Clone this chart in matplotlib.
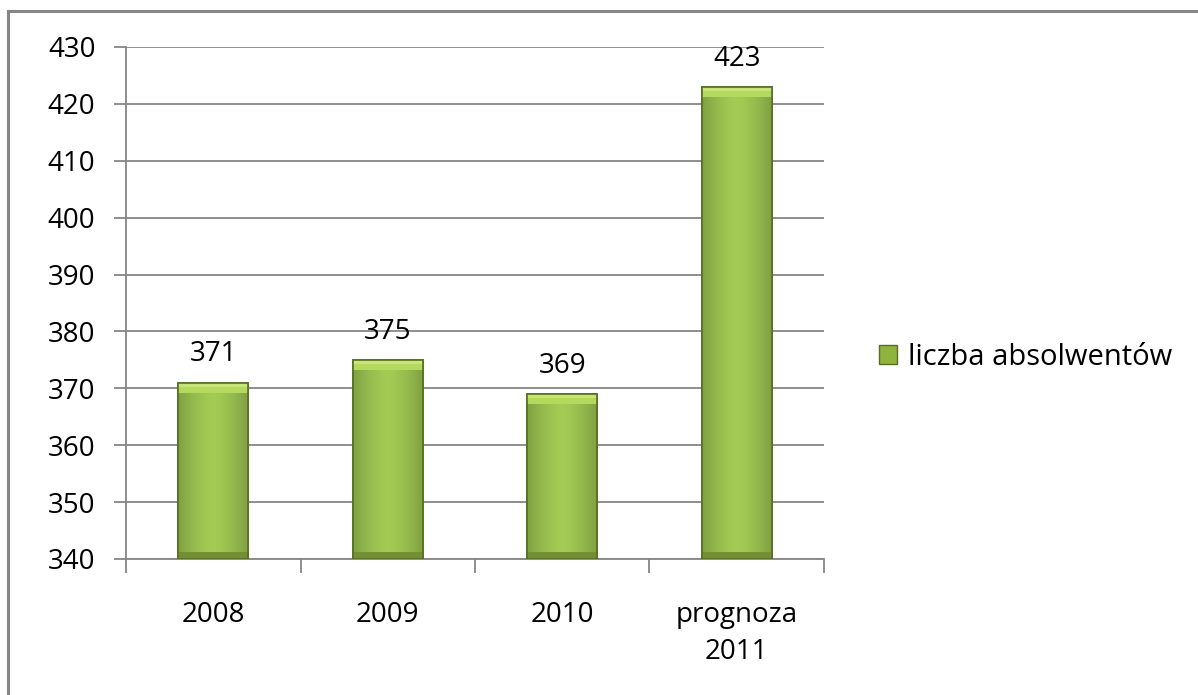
import numpy as np
import matplotlib.pyplot as plt
from matplotlib.patches import Rectangle, Patch

categories = ["2008", "2009", "2010", "prognoza\n2011"]
values = [371, 375, 369, 423]
series_name = "liczba absolwentów"
y_ticks = list(range(340, 431, 10))

plt.rcParams['font.family'] = ['Open Sans', 'DejaVu Sans']

fig = plt.figure(figsize=(11.98, 6.95), dpi=100)
ax = fig.add_axes([0.1052, 0.1957, 0.5826, 0.7367])

grid_col = "#868686"
fs = 20
x = np.arange(len(categories))
bars = ax.bar(x, values, width=0.4, bottom=0, color="#9bc043",
              edgecolor="#566f22", linewidth=1.2, zorder=3)

# gradient fill inside each bar (lighter centre, darker sides)
grad = np.linspace(0, 1, 64)
shade = 1 - 0.3 * np.abs(grad - 0.5) ** 1.5 * 2
light = np.array([0.64, 0.80, 0.33])
img = shade[None, :, None] * light[None, None, :]
for b in bars:
    x0, w, h = b.get_x(), b.get_width(), b.get_height()
    im = ax.imshow(img, extent=(x0, x0 + w, 340, h),
                   aspect="auto", zorder=3.5, interpolation="bilinear")
    im.set_clip_path(b)
    # top bevel
    ax.add_patch(Rectangle((x0, h - 1.8), w, 1.8,
                           facecolor="#b5d95f", edgecolor="none", zorder=3.6))
    ax.add_patch(Rectangle((x0, h - 0.7), w, 0.7,
                           facecolor="#c8e57a", edgecolor="none", zorder=3.6))
    # bottom bevel
    ax.add_patch(Rectangle((x0, 340), w, 1.2,
                           facecolor="#728f33", edgecolor="none", zorder=3.6))
    ax.add_patch(Rectangle((x0, 340), w, h - 340, fill=False,
                           edgecolor="#566f22", linewidth=1.2, zorder=3.7))
    ax.text(x0 + w / 2, h + 2.5, f"{h:.0f}",
            ha="center", va="bottom", fontsize=fs, zorder=4)

ax.set_xlim(-0.5, len(categories) - 0.5)
ax.set_ylim(340, 430)
ax.set_yticks(y_ticks)
ax.tick_params(axis="y", labelsize=fs, length=9, color=grid_col, width=1.3, pad=13)
ax.set_xticks(np.arange(-0.5, len(categories), 1.0))
ax.set_xticklabels([])
ax.set_xticks(x, minor=True)
ax.set_xticklabels(categories, minor=True, fontsize=fs, linespacing=1.45)
ax.tick_params(axis="x", which="major", length=10, color=grid_col, width=1.3)
ax.tick_params(axis="x", which="minor", length=0, pad=30)
ax.grid(axis="y", color=grid_col, linewidth=1.3, zorder=0)
for s in ["top", "right"]:
    ax.spines[s].set_visible(False)
for s in ["left", "bottom"]:
    ax.spines[s].set_color(grid_col)
    ax.spines[s].set_linewidth(1.3)

handle = Patch(facecolor="#8fb33c", edgecolor="#566f22")
fig.legend([handle], [series_name], loc="center left",
           bbox_to_anchor=(0.712, 0.486), frameon=False, fontsize=fs + 1,
           handlelength=0.6, handleheight=0.6, handletextpad=0.4)

# outer chart-area border (only top and left edges visible)
fig.add_artist(Rectangle((0.0065, -0.05), 1.1, 1.034, transform=fig.transFigure,
                         fill=False, edgecolor="#868686", linewidth=2.2))

fig.savefig("out.png", dpi=100)
